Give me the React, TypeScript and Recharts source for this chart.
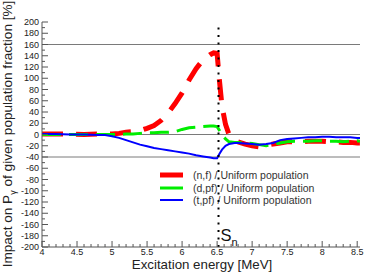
import React from "react";
import { LineChart, Line, XAxis, YAxis, ReferenceLine } from "recharts";

const FONT = "'Liberation Sans', Arial, Helvetica, sans-serif";
const FRAME = "#555";

// excitation energy grid [MeV]
const energy = [
  4.0, 4.2, 4.4, 4.6, 4.8, 4.9, 5.0, 5.1, 5.2, 5.3, 5.4, 5.5, 5.6, 5.7, 5.8, 5.9,
  6.0, 6.1, 6.2, 6.3, 6.4, 6.45, 6.5, 6.53, 6.57, 6.62, 6.67, 6.75, 6.8, 6.9,
  7.0, 7.1, 7.2, 7.3, 7.4, 7.5, 7.6, 7.7, 7.8, 7.9, 8.0, 8.1, 8.2, 8.3, 8.4, 8.5, 8.54,
];

// impact on P_gamma [%] relative to uniform population
const nfRatio = [
  1, 1, 1, 0, 1, 1, 1, 2, 4, 5, 7, 11, 16, 25, 38, 55,
  74, 97, 117, 133, 142, 145, 144, 100, 50, 18, 0, -10, -13, -17,
  -20, -22, -19, -17, -15, -13, -13, -13, -12, -12, -12, -13, -13, -14, -14, -15, -15,
];
const dpfRatio = [
  0, 0, 0, 0, 0, 0, 0, 0, 1, 1, 2, 3, 3, 4, 4, 5,
  9, 12, 13, 14, 15, 15, 14, 8, 0, -8, -13, -14, -14, -15,
  -16, -18, -20, -18, -15, -13, -12, -12, -12, -11, -11, -12, -12, -13, -12, -11, -12,
];
const tpfRatio = [
  1, 1, 0, 0, -1, -1, -3, -6, -10, -14, -18, -21, -24, -26, -28, -30,
  -32, -34, -37, -39, -41, -42, -42, -35, -27, -20, -17, -15, -15, -16,
  -17, -18, -17, -15, -10, -8, -7, -6, -5, -5, -4, -4, -5, -5, -5, -6, -6,
];

const seriesNames = [
  "(n,f) / Uniform population",
  "(d,pf) / Uniform population",
  "(t,pf) / Uniform population",
];

const referenceLevels = [160, 0, -40];
const neutronSeparation = 6.52;

const xTicks: number[] = [];
for (let i = 0; i <= 45; i++) xTicks.push(+(4 + i * 0.1).toFixed(1));
const yTicks: number[] = [];
for (let v = -200; v <= 200; v += 10) yTicks.push(v);

const data = energy.map((e, i) => ({
  e,
  nf: nfRatio[i],
  dpf: dpfRatio[i],
  tpf: tpfRatio[i],
}));

const isHalf = (v: number) => Math.abs(v * 2 - Math.round(v * 2)) < 1e-6;
const isTwenty = (v: number) => Math.abs(v % 20) < 1e-6;

const BottomTick = (props: any) => {
  const { x, y, payload } = props;
  const major = isHalf(payload.value);
  return (
    <g>
      <line x1={x} x2={x} y1={y} y2={y - (major ? 6 : 3)} stroke={FRAME} />
      {major && (
        <text x={x} y={y + 8} textAnchor="middle" fontSize={9} fill="#222" fontFamily={FONT}>
          {String(payload.value)}
        </text>
      )}
    </g>
  );
};

const TopTick = (props: any) => {
  const { x, y, payload } = props;
  const major = isHalf(payload.value);
  return <line x1={x} x2={x} y1={y} y2={y + (major ? 6 : 3)} stroke={FRAME} />;
};

const LeftTick = (props: any) => {
  const { x, y, payload } = props;
  const major = isTwenty(payload.value);
  return (
    <g>
      <line x1={x} x2={x + (major ? 6 : 3)} y1={y} y2={y} stroke={FRAME} />
      {major && (
        <text x={x - 3} y={y + 3} textAnchor="end" fontSize={9} fill="#222" fontFamily={FONT}>
          {String(payload.value)}
        </text>
      )}
    </g>
  );
};

const RightTick = (props: any) => {
  const { x, y, payload } = props;
  const major = isTwenty(payload.value);
  return <line x1={x} x2={x - (major ? 6 : 3)} y1={y} y2={y} stroke={FRAME} />;
};

const XTitle = () => (
  <text x={202} y={268.5} textAnchor="middle" fontSize={13.3} fill="#222" fontFamily={FONT}>
    Excitation energy [MeV]
  </text>
);

const YTitle = () => (
  <text
    transform="translate(12, 134) rotate(-90)"
    textAnchor="middle"
    fontSize={13.6}
    fill="#222"
    fontFamily={FONT}
  >
    Impact on P
    <tspan dy={4} fontSize={9}>
      γ
    </tspan>
    <tspan dy={-4}> of given population fraction [%]</tspan>
  </text>
);

const SnLabel = (props: any) => {
  const { viewBox } = props;
  const x = viewBox?.x ?? 218;
  return (
    <text x={x + 2} y={241} fontSize={16.5} fill="#111" fontFamily={FONT}>
      S
      <tspan dy={5} fontSize={11}>
        n
      </tspan>
    </text>
  );
};

const legendStyles = [
  { color: "#ff0000", width: 5 },
  { color: "#00ee00", width: 3 },
  { color: "#0000ff", width: 2 },
];

// legend sits under the chart svg so the Sn dotted line runs over it
const LegendBox = () => (
  <div
    style={{
      position: "absolute",
      left: 160,
      top: 169,
      fontFamily: FONT,
      fontSize: 10.5,
      color: "#333",
    }}
  >
    {seriesNames.map((name, i) => (
      <div key={name} style={{ display: "flex", alignItems: "center", height: 12.5 }}>
        <svg width={23} height={8} style={{ display: "block" }}>
          <line
            x1={0}
            x2={23}
            y1={4}
            y2={4}
            stroke={legendStyles[i].color}
            strokeWidth={legendStyles[i].width}
          />
        </svg>
        <span style={{ marginLeft: 10, whiteSpace: "nowrap", lineHeight: "12.5px" }}>{name}</span>
      </div>
    ))}
  </div>
);

export default function App() {
  return (
    <div style={{ position: "absolute", left: 0, top: 0, width: 366, height: 273, background: "#fff" }}>
      <LegendBox />
      <LineChart
        width={366}
        height={273}
        data={data}
        margin={{ top: 22, right: 6, bottom: 0, left: 0 }}
        style={{ fontFamily: FONT }}
      >
        <XAxis
          dataKey="e"
          type="number"
          domain={[4, 8.54]}
          allowDataOverflow
          ticks={xTicks}
          interval={0}
          height={26}
          tickSize={0}
          tickMargin={0}
          tickLine={false}
          tick={<BottomTick />}
          axisLine={{ stroke: FRAME }}
          label={<XTitle />}
        />
        <XAxis
          xAxisId="top"
          orientation="top"
          dataKey="e"
          type="number"
          domain={[4, 8.54]}
          allowDataOverflow
          ticks={xTicks}
          interval={0}
          height={0}
          tickSize={0}
          tickMargin={0}
          tickLine={false}
          tick={<TopTick />}
          axisLine={{ stroke: FRAME }}
        />
        <YAxis
          type="number"
          domain={[-200, 200]}
          allowDataOverflow
          ticks={yTicks}
          interval={0}
          width={42}
          tickSize={0}
          tickMargin={0}
          tickLine={false}
          tick={<LeftTick />}
          axisLine={{ stroke: FRAME }}
          label={<YTitle />}
        />
        <YAxis
          yAxisId="right"
          orientation="right"
          type="number"
          domain={[-200, 200]}
          allowDataOverflow
          ticks={yTicks}
          interval={0}
          width={0}
          tickSize={0}
          tickMargin={0}
          tickLine={false}
          tick={<RightTick />}
          axisLine={{ stroke: FRAME }}
        />
        {referenceLevels.map((v) => (
          <ReferenceLine key={v} y={v} stroke="#7a7a7a" strokeWidth={1} />
        ))}
        <Line
          dataKey="nf"
          name={seriesNames[0]}
          type="linear"
          stroke="#ff0000"
          strokeWidth={5}
          strokeDasharray="21 13"
          dot={false}
          activeDot={false}
          isAnimationActive={false}
        />
        <Line
          dataKey="dpf"
          name={seriesNames[1]}
          type="linear"
          stroke="#00ee00"
          strokeWidth={3}
          strokeDasharray="19 8"
          dot={false}
          activeDot={false}
          isAnimationActive={false}
        />
        <Line
          dataKey="tpf"
          name={seriesNames[2]}
          type="linear"
          stroke="#0000ff"
          strokeWidth={2}
          dot={false}
          activeDot={false}
          isAnimationActive={false}
        />
        <ReferenceLine
          x={neutronSeparation}
          stroke="#000"
          strokeWidth={2}
          strokeDasharray="2 5.5"
          label={<SnLabel />}
        />
      </LineChart>
    </div>
  );
}
